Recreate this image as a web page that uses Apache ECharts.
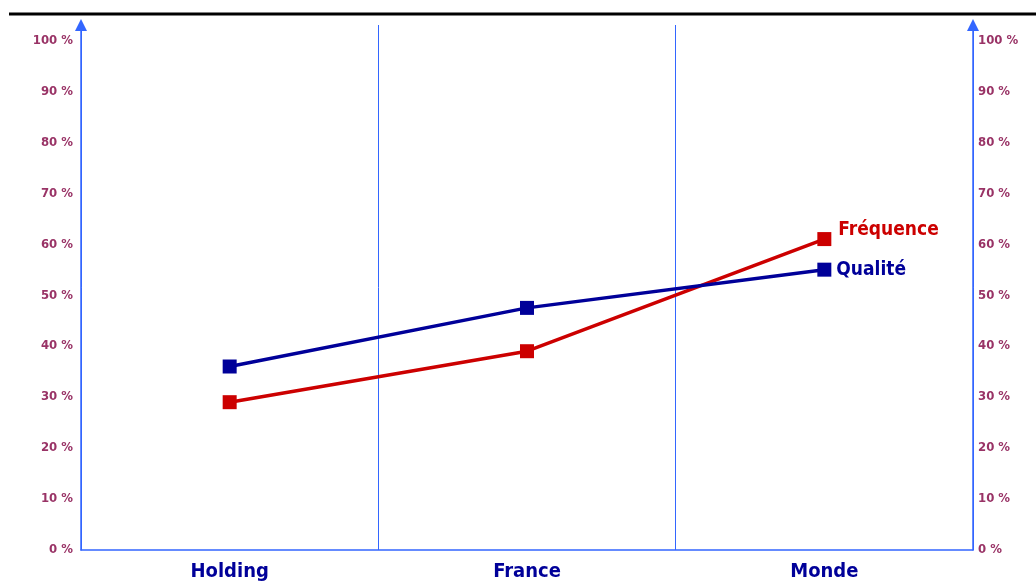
<!DOCTYPE html>
<html style="height: 100%">
    <head>
        <meta charset="utf-8">
    </head>
    <body style="height: 100%; margin: 0">
        <div id="container" style="height: 100%"></div>
        <script type="text/javascript" src="https://cdn.jsdelivr.net/npm/echarts@6/dist/echarts.min.js"></script>
        <script type="text/javascript">

var categories = ['Holding', 'France', 'Monde'];
var frequence = [29, 39, 61];
var qualite = [36, 47.5, 55];

var dom = document.getElementById("container");
var myChart = echarts.init(dom);

var font = "'DejaVu Sans Condensed', 'Liberation Sans Narrow', sans-serif";
var axisBlue = '#3366FF';

function yAxisDef(pos) {
    return {
        type: 'value',
        position: pos,
        min: 0,
        max: 103,
        interval: 10,
        axisLine: {
            show: true,
            lineStyle: { color: axisBlue, width: 1.5 },
            symbol: ['none', 'triangle'],
            symbolSize: [12, 12]
        },
        axisTick: { show: false },
        splitLine: { show: false },
        axisLabel: {
            showMaxLabel: false,
            formatter: '{value} %',
            color: '#993366',
            fontFamily: font,
            fontWeight: 'bold',
            fontSize: 13,
            margin: pos === 'left' ? 8 : 5
        }
    };
}

var option = {
    animation: false,
    grid: { left: 81, right: 63, top: 25, bottom: 34 },
    graphic: [{
        type: 'line',
        shape: { x1: 9, y1: 14, x2: 1036, y2: 14 },
        style: { stroke: '#000', lineWidth: 3 }
    }],
    xAxis: {
        type: 'category',
        data: categories,
        boundaryGap: true,
        axisLine: { lineStyle: { color: axisBlue, width: 1.5 } },
        axisTick: { show: false },
        splitLine: { show: true, lineStyle: { color: axisBlue, width: 1 } },
        axisLabel: {
            color: '#000099',
            fontFamily: font,
            fontWeight: 'bold',
            fontSize: 20,
            margin: 12
        }
    },
    yAxis: [yAxisDef('left'), yAxisDef('right')],
    series: [
        {
            name: 'Fréquence',
            type: 'line',
            data: frequence,
            symbol: 'rect',
            symbolSize: 14,
            itemStyle: { color: '#CC0000' },
            lineStyle: { color: '#CC0000', width: 3.5 },
            endLabel: {
                show: true,
                formatter: '{a}',
                color: '#CC0000',
                fontFamily: font,
                fontWeight: 'bold',
                fontSize: 19,
                distance: 14,
                offset: [0, -9]
            }
        },
        {
            name: 'Qualité',
            type: 'line',
            data: qualite,
            symbol: 'rect',
            symbolSize: 14,
            itemStyle: { color: '#000099' },
            lineStyle: { color: '#000099', width: 3.5 },
            endLabel: {
                show: true,
                formatter: '{a}',
                color: '#000099',
                fontFamily: font,
                fontWeight: 'bold',
                fontSize: 19,
                distance: 12
            }
        }
    ]
};

myChart.setOption(option);

        </script>
    </body>
</html>
